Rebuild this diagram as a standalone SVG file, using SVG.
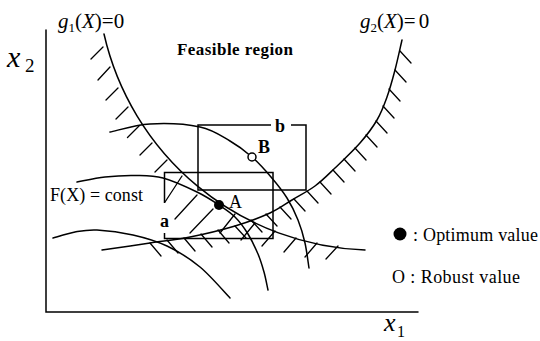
<svg xmlns="http://www.w3.org/2000/svg" width="540" height="341" viewBox="0 0 540 341">
<style>
.ln{fill:none;stroke:#000;stroke-width:1.5;stroke-linecap:round}
.ht{fill:none;stroke:#000;stroke-width:1.3;stroke-linecap:round}
.bx{fill:none;stroke:#000;stroke-width:1.5}
.tx{font-family:"Liberation Serif","Times New Roman",serif;fill:#000}
.it{font-style:italic}
.bd{font-weight:bold}
</style>
<rect width="540" height="341" fill="#fff"/>
<g id="axes">
<path class="ln" d="M46,30 V312 H418" stroke-width="1.8"/>
<text class="tx it" x="7" y="67" font-size="30">x</text>
<text class="tx" x="25" y="72" font-size="19">2</text>
<text class="tx it" x="384" y="331" font-size="26">x</text>
<text class="tx" x="397" y="337" font-size="16">1</text>
</g>
<g id="g1">
<path class="ln" d="M104,34 A278,278 0 0 0 365,250"/>
<path class="ht" d="M103,47L91,59M110,67L98,80M118,88L106,100M128,107L116,119M139.5,125.5L127.5,137.5M152,143L140,155M167,160L155,172M182,176L165,202M197,195L175,219M213,209L190,233M235,214L220,233M255,223L241,240M275,231L262,246M296,238L284,252M317,243L305,257M338,246L326,259"/>
<text class="tx" x="58" y="28" font-size="21"><tspan class="it">g</tspan><tspan font-size="13" dy="4">1</tspan><tspan dy="-4">(</tspan><tspan class="it">X</tspan><tspan>)=0</tspan></text>
</g>
<g id="g2">
<path class="ln" d="M402,40 C400.8,45 397.5,60.5 395,70 C392.5,79.5 390,88.7 387,97 C384,105.3 381.5,112.3 377,120 C372.5,127.7 367,135 360,143 C353,151 342.5,160.8 335,168 C327.5,175.2 322.2,180.7 315,186 C307.8,191.3 299.5,195.5 292,200 C284.5,204.5 279.5,208.7 270,213 C260.5,217.3 248.3,222 235,226 C221.7,230 204.2,234.2 190,237 C175.8,239.8 164.7,240.8 150,243 C135.3,245.2 110,248.8 102,250"/>
<path class="ht" d="M150,243L161,256M167,240L178,253M184,238L195,251M201,234L212,247M218,230L229,243M235,226L246,238M251,220L262,232M266,214L277,226M280,207L291,219M294,199L305,211M307,191L318,203M320,182L331,194M333,170L344,182M344,159L355,171M355,148L366,160M366,135L377,147M376,121L387,133M383,106L394,118M389,89L400,101M395,70L406,82M400,51L411,63"/>
<text class="tx" x="360" y="28" font-size="21"><tspan class="it">g</tspan><tspan font-size="13" dy="4">2</tspan><tspan dy="-4">(</tspan><tspan class="it">X</tspan><tspan>)=</tspan><tspan dx="3">0</tspan></text>
</g>
<g id="contours">
<path class="ln" d="M110,132 C116.7,130.7 135,124.8 150,124 C165,123.2 186.7,124.2 200,127 C213.3,129.8 221.3,136 230,141 C238.7,146 245.2,151 252,157 C258.8,163 265.2,170.2 271,177 C276.8,183.8 282.5,190.8 287,198 C291.5,205.2 295,212.5 298,220 C301,227.5 303.2,235 305,243 C306.8,251 308.3,263.8 309,268"/>
<path class="ln" d="M77,182 C81.7,181.2 95.3,178.1 105,177 C114.7,175.9 125.3,175.3 135,175.5 C144.7,175.7 152.7,175.25 163,178 C173.3,180.75 187.7,187.5 197,192 C206.3,196.5 212.7,200.8 219,205 C225.3,209.2 230.2,212.2 235,217 C239.8,221.8 244.2,227.8 248,234 C251.8,240.2 255.3,247.7 258,254 C260.7,260.3 262.3,266 264,272 C265.7,278 267.3,287 268,290"/>
<path class="ln" d="M53,238 C56.7,237 67.7,233.3 75,232 C82.3,230.7 87.3,229.5 97,230 C106.7,230.5 121.3,232.3 133,235 C144.7,237.7 155.8,240.7 167,246 C178.2,251.3 189.5,258.3 200,267 C210.5,275.7 225,292.8 230,298"/>
<text class="tx" x="50" y="201" font-size="18" textLength="93">F(X) = const</text>
</g>
<g id="box-b">
<path class="bx" d="M271,125 H198 V190 H306 V125 H291"/>
<text class="tx bd" x="275" y="132" font-size="18">b</text>
</g>
<g id="box-a">
<path class="bx" d="M164.5,203 V172.5 H273 V238.5 H164.5 V233"/>
<text class="tx bd" x="160" y="227" font-size="18">a</text>
</g>
<g id="point-A">
<circle cx="219" cy="205" r="5" fill="#000"/>
<text class="tx" x="229" y="208" font-size="18">A</text>
</g>
<g id="point-B">
<circle cx="252" cy="157" r="4" fill="#fff" stroke="#000" stroke-width="1.5"/>
<text class="tx bd" x="258" y="153" font-size="18">B</text>
</g>
<g id="title">
<text class="tx bd" x="177" y="55" font-size="17" textLength="116">Feasible region</text>
</g>
<g id="legend">
<circle cx="400" cy="234" r="6.5" fill="#000"/>
<text class="tx" x="413" y="241" font-size="18" textLength="125">: Optimum value</text>
<text class="tx" x="392" y="283" font-size="18" textLength="128">O : Robust value</text>
</g>
</svg>
